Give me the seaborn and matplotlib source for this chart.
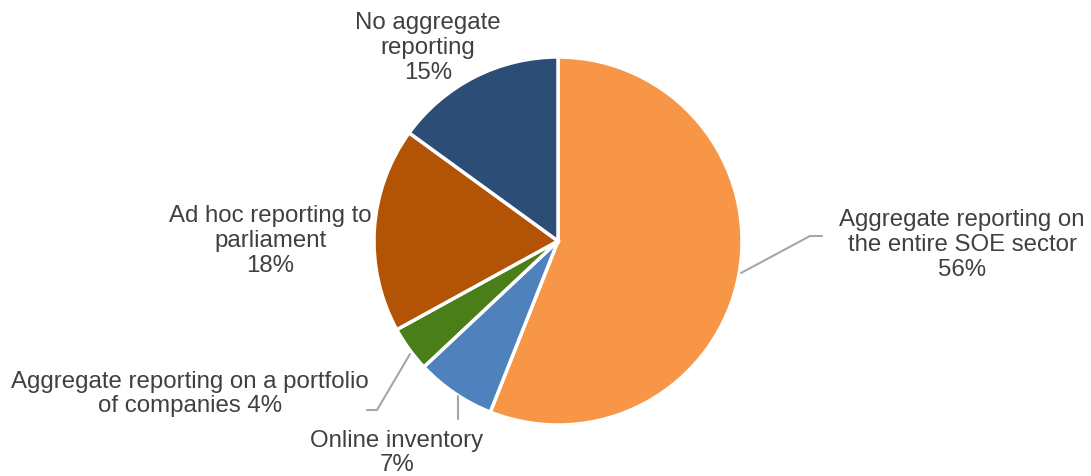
import matplotlib
matplotlib.use("Agg")
import matplotlib.pyplot as plt
import seaborn as sns

categories = [
    "Aggregate reporting on\nthe entire SOE sector",
    "Online inventory",
    "Aggregate reporting on a portfolio\nof companies",
    "Ad hoc reporting to\nparliament",
    "No aggregate\nreporting",
]
shares = [56, 7, 4, 18, 15]
colors = ["#F79646", "#4F81BD", "#4A7E18", "#B35306", "#2C4D75"]

sns.set_theme(style="white")
plt.rcParams["font.family"] = ["Liberation Sans", "DejaVu Sans"]

W, H = 1091, 477
fig = plt.figure(figsize=(W / 100, H / 100), dpi=100)
ax = fig.add_axes([0, 0, 1, 1])

cx, cy, r = 558, H - 242, 184
ax.pie(shares, colors=colors, startangle=90, counterclock=False,
       center=(cx, cy), radius=r, frame=True,
       wedgeprops=dict(edgecolor="white", linewidth=2.5))
ax.set_xlim(0, W)
ax.set_ylim(0, H)
ax.set_aspect("equal")
ax.axis("off")

tc = "#404040"
fs = 17.3
lab = [
    (962, H - 245, f"{categories[0]}\n{shares[0]}%"),
    (397, H - 453, f"{categories[1]}\n{shares[1]}%"),
    (190, H - 394, f"{categories[2]} {shares[2]}%"),
    (270, H - 241, f"{categories[3]}\n{shares[3]}%"),
    (428, H - 48, f"{categories[4]}\n{shares[4]}%"),
]
for x, y, t in lab:
    ax.text(x, y, t, ha="center", va="center", fontsize=fs, color=tc,
            linespacing=1.17)

lc = "#A6A6A6"
ax.plot([741, 810, 822], [H - 274, H - 237, H - 237], color=lc, lw=1.5)
ax.plot([458, 458], [H - 397, H - 420], color=lc, lw=1.5)
ax.plot([410, 377, 367], [H - 355, H - 411, H - 411], color=lc, lw=1.5)

fig.savefig("out.png", dpi=100, facecolor="white")
